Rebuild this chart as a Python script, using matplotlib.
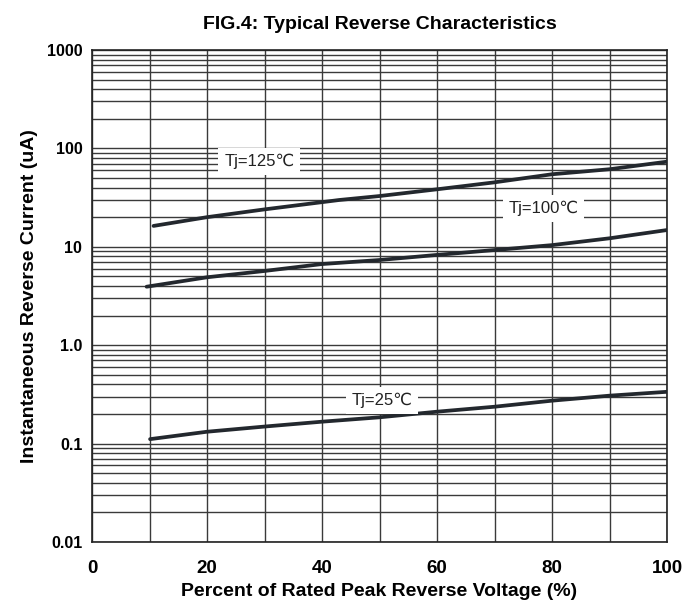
import numpy as np
import matplotlib
matplotlib.use("Agg")
import matplotlib.pyplot as plt
from matplotlib.ticker import FixedLocator, NullFormatter

# percent of rated peak reverse voltage (%)
x_125 = [10.7, 20, 30, 43, 50, 60, 70, 80, 90, 100]
i_125 = [16.3, 20.0, 24.0, 29.9, 32.8, 38.4, 45.2, 54.6, 61.4, 73.3]

x_100 = [9.5, 20, 30, 40, 50, 60, 70, 80, 90, 100]
i_100 = [3.93, 4.90, 5.68, 6.68, 7.34, 8.27, 9.27, 10.4, 12.2, 14.8]

x_25 = [10.1, 20, 30, 40, 50, 60, 70, 80, 90, 100]
i_25 = [0.111, 0.132, 0.149, 0.167, 0.185, 0.211, 0.237, 0.273, 0.307, 0.336]

labels = ["Tj=125\u2103", "Tj=100\u2103", "Tj=25\u2103"]
label_xy = [(29.1, 73.6), (78.5, 24.6), (50.4, 0.277)]

xticks = [0, 20, 40, 60, 80, 100]
yticks = [0.01, 0.1, 1, 10, 100, 1000]
ytick_labels = ["0.01", "0.1", "1.0", "10", "100", "1000"]

plt.rcParams["font.family"] = ["Liberation Sans", "DejaVu Sans"]
LINE = "#23282e"
GRID = "#3a3a3a"

fig = plt.figure(figsize=(6.88, 6.07), dpi=100)
ax = fig.add_axes([92 / 688, 1 - 542 / 607, 575 / 688, 492 / 607])
ax.set_yscale("log")
ax.set_xlim(0, 100); ax.set_ylim(0.01, 1000)

ax.xaxis.set_major_locator(FixedLocator(xticks))
ax.xaxis.set_minor_locator(FixedLocator(np.arange(0, 101, 10)))
ax.yaxis.set_major_locator(FixedLocator(yticks))
ax.yaxis.set_minor_locator(FixedLocator([m * 10.0 ** e for e in range(-2, 3) for m in range(2, 10)]))
ax.yaxis.set_minor_formatter(NullFormatter())
ax.set_xticklabels([str(t) for t in xticks], fontsize=13.5, fontweight="bold")
ax.set_yticklabels(ytick_labels, fontsize=11.5, fontweight="bold")
ax.tick_params(which="both", length=0)
ax.tick_params(axis="x", pad=13)
ax.tick_params(axis="y", pad=7)
ax.grid(True, which="both", color=GRID, lw=1.0)
ax.set_axisbelow(True)
for s in ax.spines.values():
    s.set_color("#222222"); s.set_linewidth(1.2)

for xs, ys in [(x_125, i_125), (x_100, i_100), (x_25, i_25)]:
    ax.plot(xs, ys, color=LINE, lw=2.7, solid_capstyle="round", zorder=3)

for txt, (lx, ly) in zip(labels, label_xy):
    ax.text(lx, ly, txt, fontsize=12, ha="center", va="center", color="#222222", zorder=4,
            bbox=dict(boxstyle="square,pad=0.35", fc="white", ec="none"))

ax.set_title("FIG.4: Typical Reverse Characteristics", fontsize=14, fontweight="bold", pad=15)
ax.set_xlabel("Percent of Rated Peak Reverse Voltage (%)", fontsize=14, fontweight="bold", labelpad=4)
ax.set_ylabel("Instantaneous Reverse Current (uA)", fontsize=14, fontweight="bold", labelpad=6)

fig.savefig("out.png", dpi=100)
